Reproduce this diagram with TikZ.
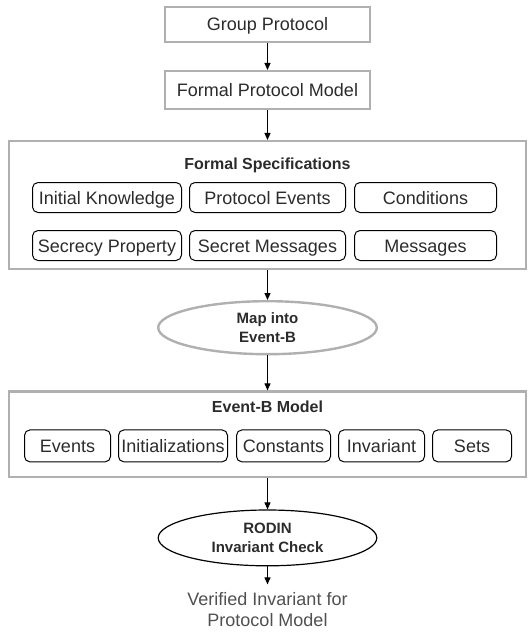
\documentclass[tikz,border=0pt]{standalone}
\usepackage{fontspec}
\setmainfont{Liberation Sans}
\usetikzlibrary{shapes.geometric, positioning, arrows.meta}
\definecolor{boxgray}{HTML}{B0B0B0}
\definecolor{inkgray}{HTML}{2B2B2B}
\definecolor{notegray}{HTML}{505050}

\begin{document}
\begin{tikzpicture}[x=1pt, y=-1pt, node distance=27pt,
    every node/.style={text=inkgray, inner sep=0pt, font=\fontsize{18}{21}\selectfont},
    stage/.style={draw=boxgray, line width=2.4pt, text height=13pt, text depth=0pt, minimum width=204.6pt, minimum height=34.6pt},
    frame/.style={draw=boxgray, line width=2.4pt, minimum width=516.6pt},
    part/.style={draw=black, line width=1pt, rounded corners=5.5pt, text height=13pt, text depth=0pt, minimum height=30pt},
    heading/.style={font=\bfseries\fontsize{16}{19}\selectfont},
    oval/.style={ellipse, align=center, minimum width=218.6pt, minimum height=53pt, font=\bfseries\fontsize{15}{19.5}\selectfont},
    flow/.style={-{Triangle[length=7pt,width=6pt]}, line width=1pt}]
    \useasboundingbox (0,0) rectangle (532,639);

    \node[stage] (group protocol) at (267.5,24.5) {Group Protocol};
    \node[stage, minimum height=37.6pt, below=of group protocol] (protocol model) {Formal Protocol Model};
    \node[frame, minimum height=127.6pt, below=30pt of protocol model] (specifications) {};
    \node[heading, below=18pt of specifications.north] (specifications title) {Formal Specifications};
    \node[part, minimum width=149pt, below right=42pt and 24pt of specifications.north west] (knowledge) {Initial Knowledge};
    \node[part, minimum width=156pt, right=7pt of knowledge] (protocol events) {Protocol Events};
    \node[part, minimum width=142pt, right=8pt of protocol events] (conditions) {Conditions};
    \node[part, minimum width=149pt, below=17pt of knowledge] (secrecy) {Secrecy Property};
    \node[part, minimum width=156pt, right=7pt of secrecy] (secret messages) {Secret Messages};
    \node[part, minimum width=142pt, right=8pt of secret messages] (messages) {Messages};
    \node[oval, draw=boxgray, line width=2.4pt, below=30pt of specifications] (mapping) {Map into\\Event-B};
    \node[frame, minimum height=85.6pt, below=35pt of mapping] (eventb model) {};
    \node[heading, below=10pt of eventb model.north] (eventb title) {Event-B Model};
    \node[part, minimum width=86pt, minimum height=32pt, below right=39pt and 16pt of eventb model.north west] (events) {Events};
    \node[part, minimum width=109pt, minimum height=32pt, right=7pt of events] (initializations) {Initializations};
    \node[part, minimum width=94pt, minimum height=32pt, right=8pt of initializations] (constants) {Constants};
    \node[part, minimum width=86pt, minimum height=32pt, right=7pt of constants] (invariant) {Invariant};
    \node[part, minimum width=79pt, minimum height=32pt, right=7pt of invariant] (sets) {Sets};
    \node[oval, draw=black, line width=1.2pt, minimum height=55.8pt, below=31pt of eventb model] (rodin) {RODIN\\Invariant Check};
    \node[align=center, text=notegray, inner ysep=8pt, below=18pt of rodin] (verified) {Verified Invariant for\\Protocol Model};

    \draw[flow] (group protocol) -- (protocol model);
    \draw[flow] (protocol model) -- (specifications);
    \draw[flow] (specifications) -- (mapping);
    \draw[flow] (mapping) -- (eventb model);
    \draw[flow] (eventb model) -- (rodin);
    \draw[flow] (rodin) -- (verified);
\end{tikzpicture}
\end{document}
